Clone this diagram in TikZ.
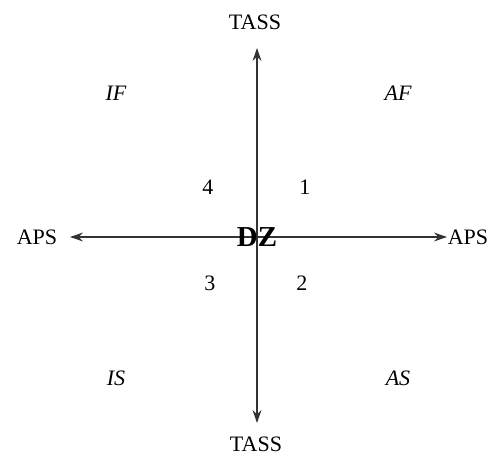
\documentclass[tikz,border=0pt]{standalone}
\usepackage{fontspec}
\setmainfont{Liberation Serif}
\usetikzlibrary{arrows.meta}
\begin{document}
\begin{tikzpicture}[>={Stealth[length=11pt,width=7.5pt]},
  lbl/.style={font=\fontsize{18.8}{22}\selectfont,inner sep=0pt},
  axis/.style={line width=1.6pt,draw=black!80}]
	  \useasboundingbox (0,0) rectangle (14.67,-13.71);
	  \coordinate (o) at (7.71,-7.11);
	  \coordinate (tipN) at (7.71,-1.44);
	  \coordinate (tipS) at (7.71,-12.69);
	  \coordinate (tipW) at (2.1,-7.11);
	  \coordinate (tipE) at (13.41,-7.11);
	  \draw[axis,->] (o) -- (tipN);
	  \draw[axis,->] (o) -- (tipS);
	  \draw[axis,->] (o) -- (tipW);
	  \draw[axis,->] (o) -- (tipE);
	  \node[lbl] (tassN) at (7.65,-0.66) {TASS};
	  \node[lbl] (tassS) at (7.68,-13.33) {TASS};
	  \node[lbl] (apsW) at (1.11,-7.11) {APS};
	  \node[lbl] (apsE) at (14.04,-7.11) {APS};
	  \node[lbl,font=\fontsize{24.7}{28}\selectfont\bfseries] (dz) at (o) {DZ};
	  \node[lbl] (qIF) at (3.48,-2.79) {\itshape IF};
	  \node[lbl] (qAF) at (11.94,-2.79) {\itshape AF};
	  \node[lbl] (qIS) at (3.48,-11.34) {\itshape IS};
	  \node[lbl] (qAS) at (11.94,-11.34) {\itshape AS};
	  \node[lbl] (n4) at (6.24,-5.61) {4};
	  \node[lbl] (n1) at (9.15,-5.61) {1};
	  \node[lbl] (n3) at (6.3,-8.49) {3};
	  \node[lbl] (n2) at (9.06,-8.49) {2};
	\end{tikzpicture}
\end{document}
